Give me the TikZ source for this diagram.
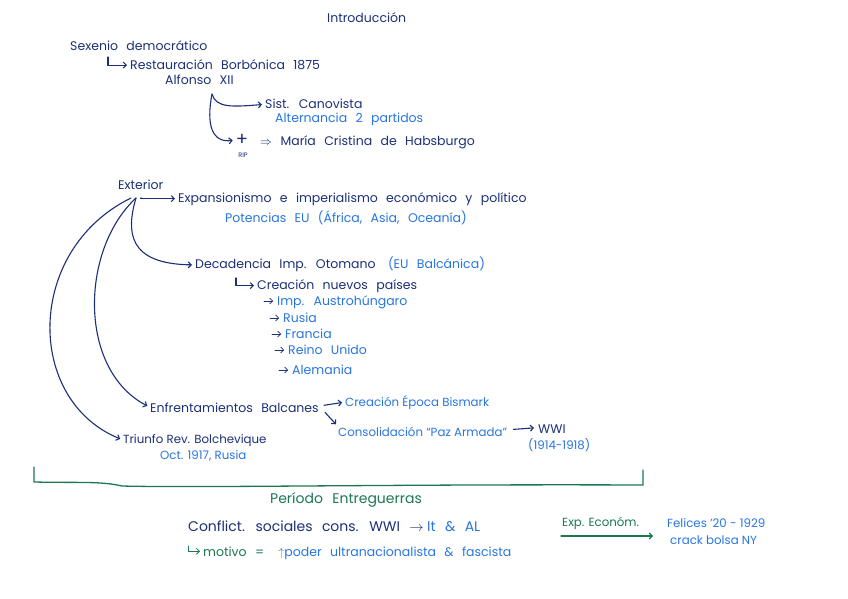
\documentclass[tikz,border=0pt]{standalone}
\usepackage{fontspec}
\setmainfont{Poppins}[WordSpace=2.5]
\usetikzlibrary{arrows.meta,calc}

\definecolor{tinta}{RGB}{28,48,120}
\definecolor{azul}{RGB}{40,118,225}
\definecolor{verde}{RGB}{28,120,80}

\newcommand\letrachica{\fontsize{11.8}{13}\selectfont\spaceskip=3.2pt plus 1pt\relax}

\tikzset{
  osc/.style={text=tinta, anchor=base west, inner sep=0pt, font=\fontsize{12.5}{14}\selectfont},
  cla/.style={osc, text=azul},
  ver/.style={osc, text=verde},
  chico/.style={font=\letrachica},
  grande/.style={font=\fontsize{14}{16}\selectfont},
  flecha/.style={draw=tinta, line width=1.1pt, line cap=round, shorten >=3pt, -{Straight Barb[length=3pt,width=6pt]}},
  flechav/.style={flecha, draw=verde},
  flechac/.style={flecha, draw=azul}
}

\begin{document}
\begin{tikzpicture}[x=1pt,y=-1pt]
	\fill [white] (0,0) rectangle (848,599);
	\useasboundingbox (0,0) rectangle (848,599);

	% titulo
	\node [osc] (intro) at (327,23) {Introducción};

	% interior
	\node [osc] (sexenio) at (70,51) {Sexenio democrático};
	\node [osc] (restaur) at (130,70) {Restauración Borbónica 1875};
	\node [osc] (alfonso) at (165,85) {Alfonso XII};
	\coordinate (gancho1) at (108,57);
	\draw [flecha] (gancho1) |- (restaur.west);

	\node [osc] (canov) at (265,109) {Sist. Canovista};
	\node [cla] (altern) at (275,122) {Alternancia 2 partidos};
	\node [osc, anchor=center, font=\fontsize{18}{18}\selectfont] (cruz) at (242,140) {+};
	\node [osc, anchor=center, font=\fontsize{6.5}{7}\selectfont] (rip) at (243,155) {RIP};
	\node [osc] (cristina) at (260,146) {$\Rightarrow$ María Cristina de Habsburgo};

	\coordinate (bajoalf) at (212,94);
	\draw [flecha] (bajoalf) .. controls (216,108) and (232,107) .. (canov.west);
	\draw [flecha] (bajoalf) .. controls (206,125) and (212,143) .. (cruz.west);

	% exterior
	\node [osc] (extr) at (118,189) {Exterior};
	\node [osc] (expan) at (178,202) {Expansionismo e imperialismo económico y político};
	\node [cla] (poten) at (225,222) {Potencias EU (África, Asia, Oceanía)};

	\node [osc] (decad) at (195,268) {Decadencia Imp. Otomano};
	\node [cla] (balc) at ([xshift=12pt]decad.base east) {(EU Balcánica)};
	\node [osc] (creac) at (257,289) {Creación nuevos países};
	\draw [flecha] (236,278) |- (creac.west);

	\foreach \pais/\px/\py [count=\i] in {Imp. Austrohúngaro/277/305, Rusia/283/322, Francia/285/338, Reino Unido/288/354, Alemania/292/374} {
		\node [cla] (pais\i) at (\px,\py) {\pais};
		\draw [flecha, line width=0.7pt, shorten >=0pt] ($(pais\i.base west)+(-13,-4)$) -- ($(pais\i.base west)+(-4,-4)$);
	}

	\node [osc] (enfren) at (150,412) {Enfrentamientos Balcanes};
	\node [cla, chico] (bismark) at (345,406) {Creación Época Bismark};
	\node [cla, chico] (consol) at (338,436) {Consolidación ``Paz Armada''};
	\node [osc] (wwi) at (538,433) {WWI};
	\node [cla, chico] (anos) at (528,449) {(1914-1918)};
	\node [osc, chico] (triunfo) at (123,443) {Triunfo Rev. Bolchevique};
	\node [cla, chico] (octubre) at (160,459) {Oct. 1917, Rusia};

	\draw [flecha] (enfren.east) ++(5,-2) -- (bismark.west);
	\draw [flecha] ($(enfren.south east)+(6,0)$) -- (consol.north west);
	\draw [flecha] ($(consol.east)+(6,-2)$) -- ($(wwi.west)+(-1,-1)$);

	\coordinate (abanico) at (136,198);
	\draw [flecha] (141,198) |- (expan.west);
	\draw [flecha] (abanico) .. controls (126,232) and (128,264) .. (decad.west);
	\draw [flecha] (abanico) .. controls (80,250) and (78,370) .. (enfren.west);
	\draw [flecha] (131,198) .. controls (25,250) and (25,400) .. (triunfo.west);

	% llave entreguerras
	\draw [verde, line width=1.3pt, line cap=round, line join=round]
		(34,467) -- (34,482) .. controls (80,483) and (100,481) .. (122,486)
		.. controls (200,488) and (400,484) .. (643,485) -- (643,470);

	\node [ver, grande] (period) at (270,503) {Período Entreguerras};
	\node [osc, grande] (conflic) at (188,531) {Conflict. sociales cons. WWI $\rightarrow$};
	\node [cla, grande] (italia) at ([xshift=3pt]conflic.base east) {It \& AL};
	\node [ver] (motivo) at (203,556) {motivo =};
	\draw [flechav, line width=0.8pt] (188,546) |- (motivo.west);
	\node [cla] (poder) at ([xshift=14pt]motivo.base east) {$\uparrow$poder ultranacionalista \& fascista};

	\node [ver, chico] (expecon) at (562,526) {Exp. Económ.};
	\node [cla, chico] (felices) at (667,527) {Felices '20 - 1929};
	\node [cla, chico] (crack) at (670,544) {crack bolsa NY};
	\coordinate (iniecon) at (561,536);
	\draw [flechav, shorten >=0pt] (iniecon) -- (653,536);
\end{tikzpicture}
\end{document}
